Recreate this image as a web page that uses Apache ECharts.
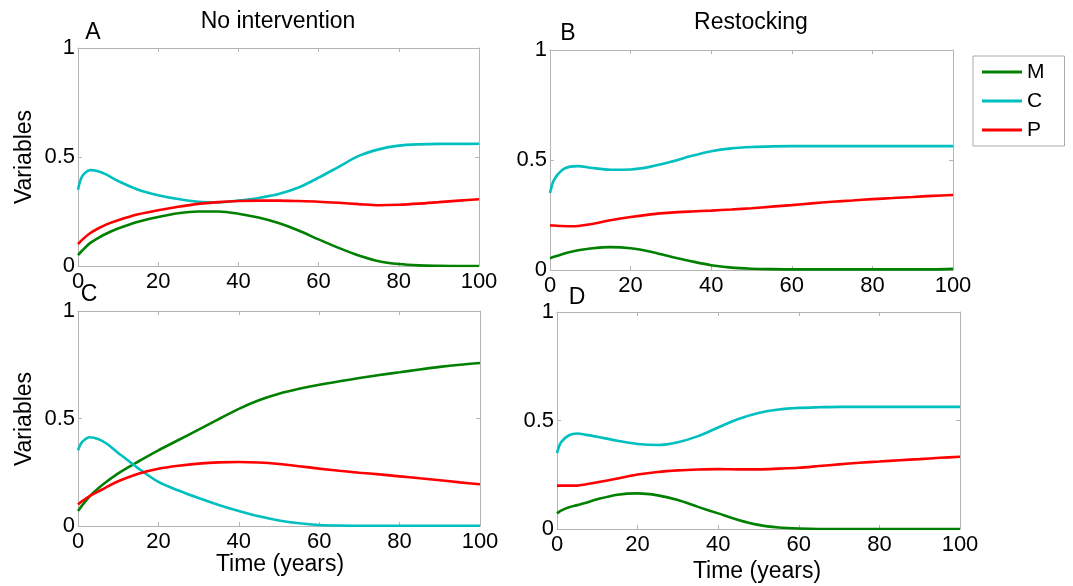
<!DOCTYPE html>
<html>
<head>
<meta charset="utf-8">
<script src="https://cdn.jsdelivr.net/npm/echarts@6/dist/echarts.min.js"></script>
<style>
html,body{margin:0;padding:0;background:#fff;}
#chart{width:1073px;height:586px;}
</style>
</head>
<body>
<div id="chart"></div>
<script>
// Time points (years)
var t = [0,1,3,5,7,10,15,20,25,30,35,40,45,50,55,60,65,70,75,80,85,90,95,100];
var seriesNames = ['M','C','P'];
var xTicks = [0,20,40,60,80,100];
var yTicks = [0,0.5,1];

// Panel A: No intervention
var A_M = [0.05,0.07,0.105,0.128,0.148,0.172,0.203,0.225,0.242,0.25,0.25,0.24,0.222,0.197,0.163,0.122,0.083,0.048,0.022,0.009,0.003,0.001,0,0];
var A_C = [0.35,0.41,0.44,0.435,0.42,0.39,0.35,0.325,0.307,0.295,0.292,0.30,0.312,0.33,0.36,0.405,0.455,0.505,0.535,0.552,0.558,0.56,0.56,0.561];
var A_P = [0.10,0.12,0.15,0.172,0.19,0.21,0.237,0.256,0.272,0.285,0.293,0.298,0.30,0.30,0.298,0.295,0.29,0.284,0.279,0.281,0.286,0.293,0.30,0.306];

// Panel B: Restocking
var B_M = [0.053,0.06,0.072,0.082,0.09,0.098,0.104,0.099,0.083,0.06,0.04,0.022,0.011,0.006,0.004,0.003,0.003,0.003,0.003,0.003,0.003,0.003,0.003,0.005];
var B_C = [0.35,0.41,0.455,0.47,0.472,0.465,0.456,0.457,0.47,0.492,0.518,0.54,0.553,0.559,0.562,0.563,0.563,0.563,0.563,0.563,0.563,0.563,0.563,0.563];
var B_P = [0.203,0.202,0.2,0.199,0.2,0.208,0.226,0.241,0.253,0.261,0.266,0.27,0.275,0.281,0.288,0.295,0.303,0.31,0.316,0.322,0.327,0.332,0.337,0.341];

// Panel C: No intervention
var C_M = [0.07,0.095,0.14,0.175,0.205,0.245,0.30,0.352,0.40,0.448,0.497,0.545,0.585,0.615,0.638,0.657,0.673,0.688,0.702,0.715,0.728,0.74,0.75,0.758];
var C_C = [0.352,0.39,0.413,0.405,0.385,0.34,0.268,0.205,0.165,0.13,0.098,0.07,0.045,0.026,0.013,0.005,0.002,0.001,0.001,0.001,0.001,0.001,0.001,0.001];
var C_P = [0.10,0.115,0.14,0.16,0.18,0.208,0.243,0.266,0.28,0.29,0.296,0.298,0.295,0.288,0.278,0.267,0.257,0.248,0.24,0.231,0.222,0.213,0.203,0.194];

// Panel D: Restocking
var D_M = [0.072,0.085,0.10,0.11,0.12,0.137,0.158,0.164,0.155,0.134,0.102,0.072,0.042,0.019,0.007,0.002,0,0,0,0,0,0,0,0];
var D_C = [0.35,0.40,0.432,0.44,0.435,0.425,0.407,0.392,0.387,0.40,0.428,0.468,0.507,0.535,0.551,0.558,0.561,0.563,0.563,0.563,0.563,0.563,0.563,0.563];
var D_P = [0.20,0.20,0.20,0.20,0.205,0.215,0.233,0.251,0.263,0.27,0.274,0.276,0.275,0.275,0.278,0.282,0.29,0.298,0.305,0.311,0.317,0.322,0.328,0.333];

var panels = [[A_M,A_C,A_P],[B_M,B_C,B_P],[C_M,C_C,C_P],[D_M,D_C,D_P]];
var colors = ['#008000','#00BFBF','#FF0000'];

var FONT = 'Liberation Sans, Arial, sans-serif';
var GRAY = '#b4b4b4';

var grids = [
  {left:78, top:48, width:401, height:218},
  {left:550, top:50, width:403, height:220},
  {left:78, top:311, width:402, height:215},
  {left:557, top:312, width:403, height:217}
];

var xAxes = [], yAxes = [], series = [];
grids.forEach(function(g, i){
  function xa(pos, showLabel){
    return {type:'value', min:0, max:100, interval:20, gridIndex:i, position:pos,
      splitLine:{show:false},
      axisLine:{show:true, onZero:false, lineStyle:{color:GRAY, width:1}},
      axisTick:{show:true, inside:true, length:4, lineStyle:{color:GRAY}},
      axisLabel:{show:showLabel, color:'#000', fontSize:22, fontFamily:FONT, margin:5}};
  }
  function ya(pos, showLabel){
    return {type:'value', min:0, max:1, interval:0.5, gridIndex:i, position:pos,
      splitLine:{show:false},
      axisLine:{show:true, onZero:false, lineStyle:{color:GRAY, width:1}},
      axisTick:{show:true, inside:true, length:4, lineStyle:{color:GRAY}},
      axisLabel:{show:showLabel, color:'#000', fontSize:22, fontFamily:FONT, margin:3,
        formatter:function(v){return String(v);}}};
  }
  xAxes.push(xa('bottom', true));
  xAxes.push(xa('top', false));
  yAxes.push(ya('left', true));
  yAxes.push(ya('right', false));
  panels[i].forEach(function(arr, k){
    series.push({
      type:'line', name:seriesNames[k], xAxisIndex:i*2, yAxisIndex:i*2,
      data:t.map(function(x, j){return [x, arr[j]];}),
      symbol:'none', smooth:0.3, silent:true,
      lineStyle:{color:colors[k], width:2.6},
      itemStyle:{color:colors[k]}
    });
  });
});

function txt(x, y, s, size, rot){
  var o = {type:'text', x:x, y:y, style:{text:s, font:size+'px '+FONT, fill:'#000', textAlign:'center', textVerticalAlign:'middle'}};
  if (rot) { o.rotation = rot; }
  return o;
}

var option = {
  animation:false,
  backgroundColor:'#fff',
  grid:grids,
  xAxis:xAxes,
  yAxis:yAxes,
  series:series,
  legend:{
    data:seriesNames.map(function(n){return {name:n, icon:'rect'};}),
    orient:'vertical', left:973, top:56,
    padding:[4,20,4,9], itemGap:5, itemWidth:40, itemHeight:3,
    borderColor:'#aaaaaa', borderWidth:1,
    textStyle:{fontSize:21, fontFamily:FONT, color:'#000', lineHeight:24},
    selectedMode:false
  },
  graphic:[
    txt(278, 22, 'No intervention', 23),
    txt(751, 23, 'Restocking', 23),
    txt(93, 33, 'A', 23),
    txt(568, 34, 'B', 23),
    txt(89, 295, 'C', 23),
    txt(577, 298, 'D', 23),
    txt(25, 157, 'Variables', 23, Math.PI/2),
    txt(25, 419, 'Variables', 23, Math.PI/2),
    txt(280, 565, 'Time (years)', 23),
    txt(757, 572, 'Time (years)', 23)
  ]
};

var chart = echarts.init(document.getElementById('chart'));
chart.setOption(option);
</script>
</body>
</html>
